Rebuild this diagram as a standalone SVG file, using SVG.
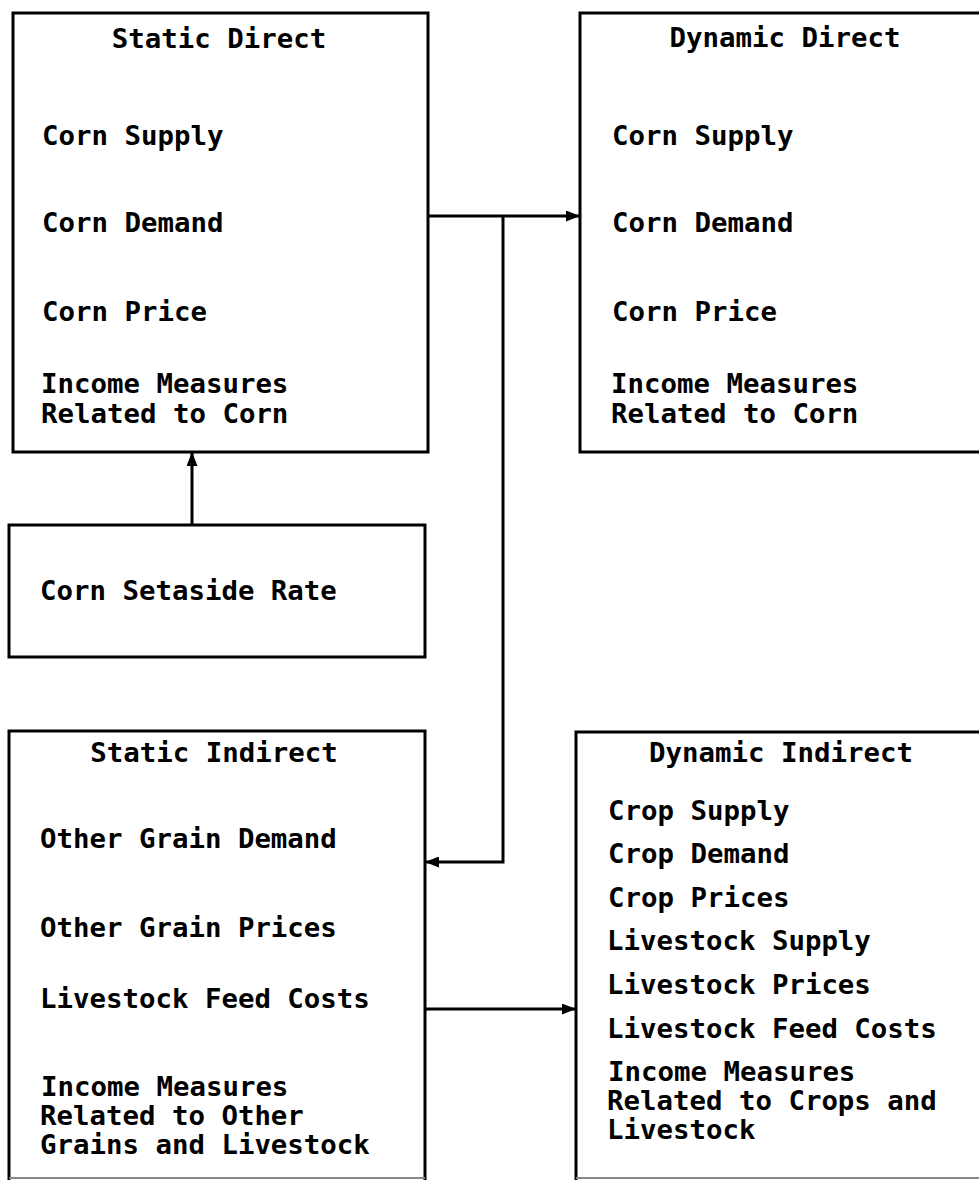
<svg xmlns="http://www.w3.org/2000/svg" width="979" height="1180" viewBox="0 0 979 1180">
<style>
.box{fill:none;stroke:#000;stroke-width:3}
.ln{fill:none;stroke:#000;stroke-width:3}
.edge{fill:none;stroke:#888;stroke-width:2}
text{font-family:"DejaVu Sans Mono","Liberation Mono",monospace;font-size:27.4px;font-weight:bold;fill:#000}
.t{text-anchor:middle}
</style>
<defs>
<marker id="ah" viewBox="0 0 14 11" refX="13" refY="5.5" markerWidth="14" markerHeight="11" markerUnits="userSpaceOnUse" orient="auto">
<path d="M0,0 L14,5.5 L0,11 Z" fill="#000"/>
</marker>
</defs>
<rect width="979" height="1180" fill="#fff"/>
<g id="static-direct">
<rect class="box" x="13" y="13" width="415" height="439"/>
<text class="t" x="219" y="48">Static Direct</text>
<text x="42" y="145">Corn Supply</text>
<text x="42" y="232">Corn Demand</text>
<text x="42" y="321">Corn Price</text>
<text x="41" y="393">Income Measures</text>
<text x="41" y="423">Related to Corn</text>
</g>
<g id="dynamic-direct">
<rect class="box" x="580" y="13" width="410" height="439"/>
<text class="t" x="785" y="47">Dynamic Direct</text>
<text x="612" y="145">Corn Supply</text>
<text x="612" y="232">Corn Demand</text>
<text x="612" y="321">Corn Price</text>
<text x="611" y="393">Income Measures</text>
<text x="611" y="423">Related to Corn</text>
</g>
<g id="corn-setaside">
<rect class="box" x="9" y="525" width="416" height="132"/>
<text x="40" y="600">Corn Setaside Rate</text>
</g>
<g id="static-indirect">
<path class="box" d="M9,1180 L9,731 L425,731 L425,1180"/>
<path class="edge" d="M9,1178 L425,1178"/>
<text class="t" x="214" y="762">Static Indirect</text>
<text x="40" y="848">Other Grain Demand</text>
<text x="40" y="937">Other Grain Prices</text>
<text x="40" y="1008">Livestock Feed Costs</text>
<text x="41" y="1096">Income Measures</text>
<text x="40" y="1125">Related to Other</text>
<text x="40" y="1154">Grains and Livestock</text>
</g>
<g id="dynamic-indirect">
<path class="box" d="M576,1180 L576,732 L990,732"/>
<path class="edge" d="M576,1178 L979,1178"/>
<text class="t" x="781" y="762">Dynamic Indirect</text>
<text x="608" y="820">Crop Supply</text>
<text x="608" y="863">Crop Demand</text>
<text x="608" y="907">Crop Prices</text>
<text x="607" y="950">Livestock Supply</text>
<text x="607" y="994">Livestock Prices</text>
<text x="607" y="1038">Livestock Feed Costs</text>
<text x="608" y="1081">Income Measures</text>
<text x="607" y="1110">Related to Crops and</text>
<text x="607" y="1139">Livestock</text>
</g>
<g id="connectors">
<path class="ln" d="M192,525 L192,453" marker-end="url(#ah)"/>
<path class="ln" d="M428,216 L579,216" marker-end="url(#ah)"/>
<path class="ln" d="M503,216 L503,862 L426,862" marker-end="url(#ah)"/>
<path class="ln" d="M425,1009 L575,1009" marker-end="url(#ah)"/>
</g>
</svg>
